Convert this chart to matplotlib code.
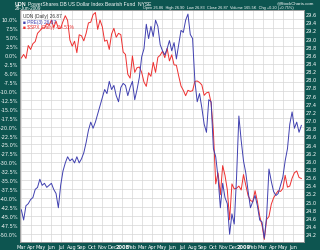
"""
plot.py

UDN vs $SPX performance chart (StockCharts style), weekly closes read off the reference.
"""

import numpy as np
import pandas as pd
import matplotlib
matplotlib.use("Agg")
import matplotlib.pyplot as plt


# weekly Friday closes, Mar 2007 .. Jun 2009
week_dates = pd.date_range("2007-03-02", periods=122, freq="W-FRI")

udn_price = [
    # 2007
    24.80, 24.55, 24.90, 24.95, 25.05,
    25.10, 25.30, 25.35, 25.55,
    25.40, 25.45, 25.35, 25.40,
    25.45, 25.30, 25.20, 24.85, 25.40,
    25.75, 25.95, 26.10, 26.00,
    26.05, 25.95, 26.10, 25.95, 26.05,
    26.20, 26.45, 26.75, 26.95,
    26.80, 26.95, 27.15, 27.35,
    27.55, 27.75, 27.65, 27.95, 27.75,
    27.85, 27.60, 27.45, 27.80,
    # 2008
    27.90, 27.85, 27.60, 27.80,
    27.95, 27.50, 27.75, 28.05, 28.55,
    28.75, 29.35, 29.00, 29.30,
    29.05, 29.45, 29.30, 28.85,
    28.70, 28.60, 28.75, 28.95, 28.70,
    28.90, 28.50, 28.85, 29.20,
    29.15, 29.45, 29.60, 29.10,
    29.00, 27.95, 27.45, 27.65, 27.30,
    26.90, 26.70, 27.50, 27.45,
    26.30, 26.10, 25.60, 24.85, 25.45,
    25.10, 24.95, 24.20, 24.70,
    24.45, 25.60, 27.10, 26.50,
    # 2009
    26.00, 25.70, 25.25, 24.85, 25.00,
    25.15, 24.90, 24.55, 24.50,
    24.10, 24.65, 25.80, 25.50,
    25.25, 25.15, 25.20, 25.40,
    25.60, 26.00, 26.30, 26.90, 27.20,
    26.80, 26.95, 26.70, 26.87,
]

spx_pct = [
    # 2007
    -0.9, 0.1, -1.0, 2.6, 1.5,
    3.1, 3.7, 6.0, 6.7,
    7.5, 7.5, 8.7, 8.2,
    9.7, 7.6, 9.4, 7.3, 7.4,
    9.3, 10.9, 9.6, 4.1,
    2.4, 3.8, 0.6, 5.6, 5.3,
    3.9, 6.0, 8.9, 9.1,
    11.2, 11.8, 7.1, 9.7,
    7.8, 3.8, 4.1, 1.5, 5.8,
    7.4, 4.9, 6.0, 5.6,
    # 2008
    0.8, 0.1, -5.4, -6.5,
    -0.3, -4.9, -3.6, -3.4, -4.9,
    -7.6, -8.8, -5.0, -6.0,
    -2.1, -4.9, -0.7, -0.1,
    1.0, -0.8, 1.8, -1.7, 0.0,
    -2.8, -2.9, -5.9, -8.7,
    -9.9, -11.4, -9.9, -10.2,
    -10.0, -7.4, -7.3, -7.7, -8.4,
    -11.3, -10.6, -10.4, -13.4,
    -21.5, -36.0, -32.9, -39.0, -30.9,
    -33.6, -37.6, -46.0, -36.0,
    -37.4, -37.2, -36.6, -37.7,
    # 2009
    -33.4, -36.4, -39.3, -40.6, -41.0,
    -37.9, -40.9, -45.0, -47.5,
    -51.5, -45.9, -45.1, -41.7,
    -39.9, -38.8, -37.9, -38.1,
    -37.3, -33.6, -36.9, -36.6, -34.4,
    -32.9, -32.4, -34.2, -34.5,
]

left_ticks = np.arange(-50.0, 10.01, 2.5)
right_ticks = np.arange(24.2, 29.61, 0.2)
month_ticks = pd.date_range("2007-03-01", "2009-06-01", freq="MS")

teal = "#0d5550"
blue = "#4040b0"
red = "#ee3030"
hdr_font = ["Liberation Sans", "DejaVu Sans"]

fig = plt.figure(figsize=(3.2, 2.51), dpi=100, facecolor=teal)
ax = fig.add_axes([20 / 320, 1 - 243 / 251, 284 / 320, 232 / 251])
ax.set_facecolor("white")
ax2 = ax.twinx()

ax.plot(week_dates, spx_pct, color=red, lw=0.7)
ax2.plot(week_dates, udn_price, color=blue, lw=0.7)

ax.set_xlim(pd.Timestamp("2007-02-26"), pd.Timestamp("2009-07-04"))
ax.set_ylim(-52.2, 12.5)
ax2.set_ylim(24.01, 29.70)

ax.set_yticks(left_ticks)
ax.set_yticklabels([f"{v:.1f}%" for v in left_ticks])
ax2.set_yticks(right_ticks)
ax2.set_yticklabels([f"{v:.1f}" for v in right_ticks])

labels = [str(d.year) if d.month == 1 else d.strftime("%b") for d in month_ticks]
ax.set_xticks(month_ticks)
ax.set_xticklabels(labels)
for lab, d in zip(ax.get_xticklabels(), month_ticks):
    if d.month == 1:
        lab.set_fontweight("bold")

ax.grid(True, color="#d6d6d6", lw=0.5)
ax.set_axisbelow(True)
for a in (ax, ax2):
    a.tick_params(length=0, labelsize=3.6, colors="white", pad=1.5)
    for s in a.spines.values():
        s.set_color("#999999")
        s.set_linewidth(0.5)

# header
fig.text(15 / 320, 1 - 4 / 251, "UDN", color="white", fontsize=3.8,
         fontweight="bold", va="center", family=hdr_font)
fig.text(28 / 320, 1 - 4 / 251,
         "PowerShares DB US Dollar Index Bearish Fund  NYSE",
         color="white", fontsize=3.6, va="center", family=hdr_font)
fig.text(15 / 320, 1 - 8.5 / 251, "26-Jun-2009", color="white",
         fontsize=3.4, va="center", family=hdr_font)
fig.text(143 / 320, 1 - 8.5 / 251,
         "Open 26.86  High 26.90  Low 26.83  Close 26.87  Volume 165.5K  Chg +0.20 (+0.75%)",
         color="white", fontsize=2.8, va="center", family=hdr_font)
fig.text(314 / 320, 1 - 3.5 / 251, "@StockCharts.com", color="white",
         fontsize=3.2, ha="right", va="center", family=hdr_font)

# legend
ax.text(0.01, 0.985, "UDN (Daily) 26.87", transform=ax.transAxes,
        fontsize=3.4, color="#333333", va="top", family=hdr_font)
ax.text(0.01, 0.962, "\u25a0 PRE(3) 26.87", transform=ax.transAxes,
        fontsize=3.4, color=blue, va="top", family=hdr_font)
ax.text(0.01, 0.939, "\u25a0 $SPX (Daily) -34.51%", transform=ax.transAxes,
        fontsize=3.4, color=red, va="top", family=hdr_font)

fig.savefig("out.png", dpi=100, facecolor=teal)
